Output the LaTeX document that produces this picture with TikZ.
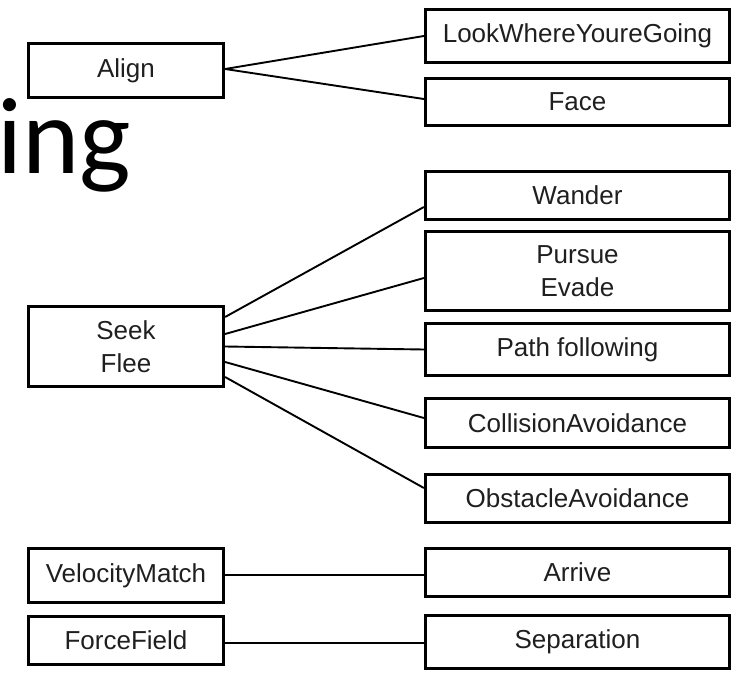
\documentclass[tikz,border=0pt]{standalone}
\usepackage{fontspec}
\setmainfont{Liberation Sans}
\newfontfamily\titlefont{Carlito}
\usetikzlibrary{calc}
\begin{document}
\begin{tikzpicture}[x=1pt,y=-1pt,
  box/.style={draw=black, line width=2.7pt, rectangle, inner sep=0pt, align=center,
    font=\fontsize{26}{33}\selectfont, text=black!88},
  lbox/.style={box, minimum width=195.5pt},
  rbox/.style={box, minimum width=304.5pt},
  link/.style={draw=black, line width=1.9pt}]
\useasboundingbox (0,0) rectangle (740,675);
\node[anchor=base west, inner sep=0pt, font=\titlefont\fontsize{109}{109}\selectfont] (title) at (-3,173) {ing};
% left column
\node[lbox, minimum height=54.5pt] (align) at (126,70.5) {Align};
\node[lbox, minimum height=80.5pt] (seek) at (126,346.5) {Seek\\Flee};
\node[lbox, minimum height=54.5pt] (vm) at (126,575.5) {VelocityMatch};
\node[lbox, minimum height=48.5pt] (ff) at (126,640.5) {ForceField};
% right column
\node[rbox, minimum height=53.5pt] (lwyg) at (577.5,36) {LookWhereYoureGoing};
\node[rbox, minimum height=47.5pt] (face) at (577.5,102) {Face};
\node[rbox, minimum height=48.5pt] (wander) at (577.5,195.5) {Wander};
\node[rbox, minimum height=79.5pt] (pursue) at (577.5,271) {Pursue\\Evade};
\node[rbox, minimum height=52.5pt] (path) at (577.5,349.5) {Path following};
\node[rbox, minimum height=49.5pt] (coll) at (577.5,423) {CollisionAvoidance};
\node[rbox, minimum height=48.5pt] (obst) at (577.5,498.5) {ObstacleAvoidance};
\node[rbox, minimum height=48.5pt] (arrive) at (577.5,572.5) {Arrive};
\node[rbox, minimum height=53.5pt] (sep) at (577.5,642) {Separation};
% connectors
\draw[link] ($(align.east)+(0,-1.5)$) -- (lwyg.west);
\draw[link] ($(align.east)+(0,-1.5)$) -- ($(face.west)+(0,-3)$);
\draw[link] ($(seek.east)+(0,-29.5)$) -- ($(wander.west)+(0,11.5)$);
\draw[link] ($(seek.east)+(0,-12.5)$) -- ($(pursue.west)+(0,7)$);
\draw[link] (seek.east) -- (path.west);
\draw[link] ($(seek.east)+(0,15.5)$) -- ($(coll.west)+(0,-5)$);
\draw[link] ($(seek.east)+(0,30.5)$) -- ($(obst.west)+(0,-10.5)$);
\draw[link] ($(vm.east)+(0,-0.5)$) -- ($(vm.east -| arrive.west)+(0,-0.5)$);
\draw[link] ($(ff.east)+(0,2.5)$) -- ($(ff.east -| sep.west)+(0,2.5)$);
\end{tikzpicture}
\end{document}
